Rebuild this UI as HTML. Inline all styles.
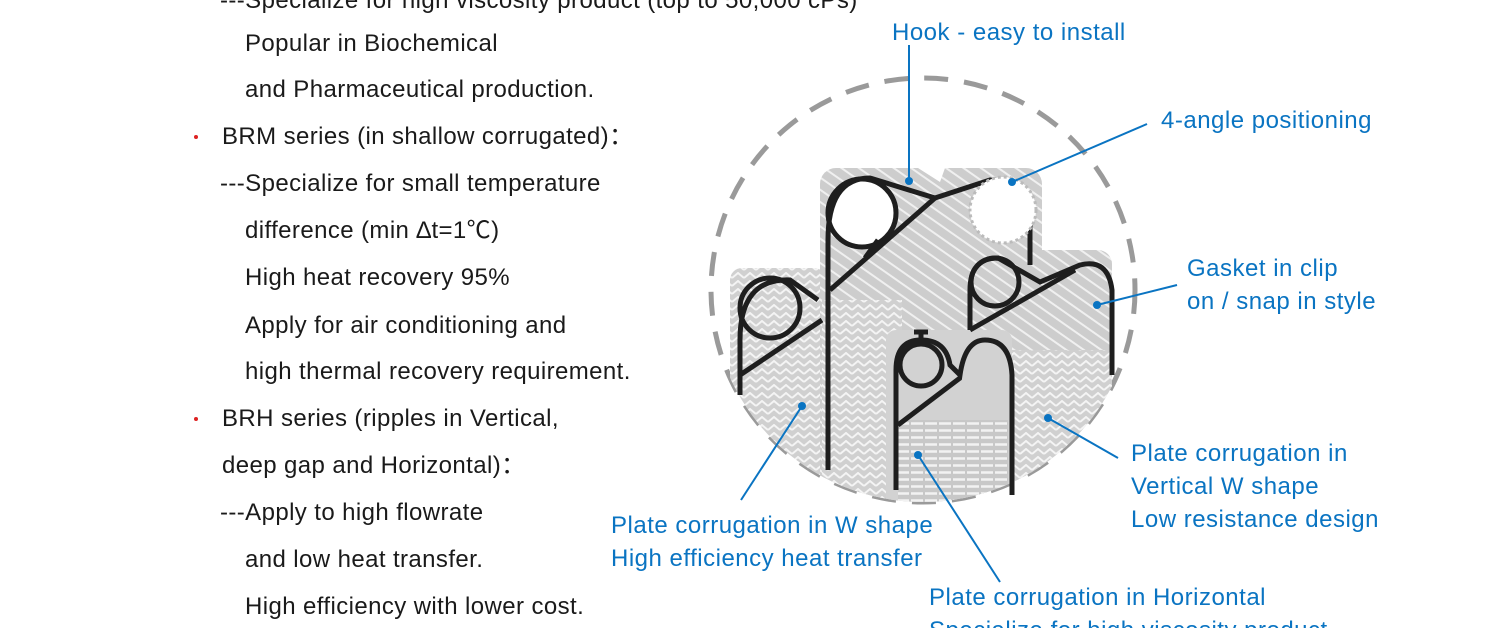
<!DOCTYPE html>
<html><head><meta charset="utf-8"><style>
html,body{margin:0;padding:0;background:#fff;}
svg{display:block}
.t{font-family:"Liberation Sans","Noto Sans CJK SC",sans-serif;font-size:24px;letter-spacing:0.4px;fill:#1a1a1a}
.b{font-family:"Liberation Sans",sans-serif;font-size:24px;letter-spacing:0.5px;fill:#0a74c2}
.l{stroke:#0a74c2;stroke-width:2;fill:none}
.g{stroke:#1e1e1e;stroke-width:5;fill:none}
</style></head><body>
<svg width="1500" height="628" viewBox="0 0 1500 628" xmlns="http://www.w3.org/2000/svg">
<defs>
<pattern id="zz" width="12" height="8" patternUnits="userSpaceOnUse">
<rect width="12" height="8" fill="#d0d0d0"/>
<path d="M0 6 L6 1 L12 6" stroke="#f4f4f4" stroke-width="2" fill="none"/>
</pattern>
<pattern id="hz" width="14" height="7" patternUnits="userSpaceOnUse">
<rect width="14" height="7" fill="#c8c8c8"/>
<path d="M1 3.5 H13" stroke="#f2f2f2" stroke-width="2.5"/>
</pattern>
<pattern id="dg" width="10" height="10" patternUnits="userSpaceOnUse" patternTransform="rotate(35)">
<rect width="10" height="10" fill="#cdcdcd"/>
<path d="M0 5 H10" stroke="#f0f0f0" stroke-width="2"/>
</pattern>
<clipPath id="cc"><circle cx="923" cy="290" r="212"/></clipPath>
</defs>

<g class="t">
<text x="220" y="8">---Specialize for high viscosity product (top to 50,000 cPs)</text>
<text x="245" y="51">Popular in Biochemical</text>
<text x="245" y="97">and Pharmaceutical production.</text>
<text x="222" y="144">BRM series (in shallow corrugated)：</text>
<text x="220" y="191">---Specialize for small temperature</text>
<text x="245" y="238">difference (min ∆t=1℃)</text>
<text x="245" y="285">High heat recovery 95%</text>
<text x="245" y="333">Apply for air conditioning and</text>
<text x="245" y="379">high thermal recovery requirement.</text>
<text x="222" y="426">BRH series (ripples in Vertical,</text>
<text x="222" y="473">deep gap and Horizontal)：</text>
<text x="220" y="520">---Apply to high flowrate</text>
<text x="245" y="567">and low heat transfer.</text>
<text x="245" y="614">High efficiency with lower cost.</text>
</g>
<circle cx="196" cy="137" r="2" fill="#d22"/>
<circle cx="196" cy="419" r="2" fill="#d22"/>

<circle cx="923" cy="290" r="212" fill="none" stroke="#9a9a9a" stroke-width="5" stroke-dasharray="24 16"/>

<g clip-path="url(#cc)">
<rect x="730" y="268" width="96" height="260" rx="12" fill="url(#zz)"/>
<rect x="820" y="168" width="222" height="360" rx="16" fill="url(#dg)"/>
<rect x="822" y="300" width="80" height="230" fill="url(#zz)"/>
<rect x="960" y="250" width="152" height="280" rx="14" fill="url(#dg)"/>
<rect x="1010" y="350" width="102" height="180" fill="url(#zz)"/>
<rect x="886" y="330" width="126" height="200" rx="10" fill="#d2d2d2"/>
<rect x="898" y="420" width="110" height="110" fill="url(#hz)"/>
<rect x="720" y="440" width="410" height="100" fill="url(#zz)" opacity="0.0"/>
</g>
<path d="M918 168 L945 168 L940 182 Z" fill="#fff"/>

<g class="g">
<circle cx="770" cy="308" r="30"/>
<path d="M740 395 V340 Q740 278 790 280 L818 300"/>
<path d="M740 375 L822 320"/>
<circle cx="862" cy="213" r="34" fill="#fff"/>
<path d="M828 470 V240 Q828 178 870 178 L935 198 L990 180 Q1030 180 1030 215 V265"/>
<path d="M830 290 L935 198"/>
<path d="M878 240 L865 258"/>
<circle cx="995" cy="282" r="24"/>
<path d="M970 330 V290 Q970 258 998 258 L1040 282 L1080 265 Q1108 258 1112 290 V375"/>
<path d="M970 330 L1075 270"/>
<circle cx="921" cy="365" r="21"/>
<path d="M896 490 V370 Q896 340 921 340 Q946 340 950 365 L960 375 Q965 340 985 340 Q1010 340 1012 375 V495"/>
<path d="M898 425 L960 378"/>
<path d="M921 332 V344 M914 332 H928"/>
</g>
<circle cx="1003" cy="210" r="33" fill="#fff" stroke="#bbb" stroke-width="3" stroke-dasharray="3 3"/>

<g class="l">
<line x1="909" y1="45" x2="909" y2="181"/>
<line x1="1147" y1="124" x2="1012" y2="182"/>
<line x1="1177" y1="285" x2="1097" y2="305"/>
<line x1="1118" y1="458" x2="1048" y2="418"/>
<line x1="741" y1="500" x2="802" y2="406"/>
<line x1="1000" y1="582" x2="918" y2="455"/>
</g>
<g fill="#0a74c2">
<circle cx="909" cy="181" r="4"/><circle cx="1012" cy="182" r="4"/>
<circle cx="1097" cy="305" r="4"/><circle cx="1048" cy="418" r="4"/>
<circle cx="802" cy="406" r="4"/><circle cx="918" cy="455" r="4"/>
</g>

<g class="b">
<text x="892" y="40">Hook - easy to install</text>
<text x="1161" y="128">4-angle positioning</text>
<text x="1187" y="276">Gasket in clip</text>
<text x="1187" y="309">on / snap in style</text>
<text x="1131" y="461">Plate corrugation in</text>
<text x="1131" y="494">Vertical W shape</text>
<text x="1131" y="527">Low resistance design</text>
<text x="611" y="533">Plate corrugation in W shape</text>
<text x="611" y="566">High efficiency heat transfer</text>
<text x="929" y="605">Plate corrugation in Horizontal</text>
<text x="929" y="638">Specialize for high viscosity product</text>
</g>
</svg>
</body></html>
